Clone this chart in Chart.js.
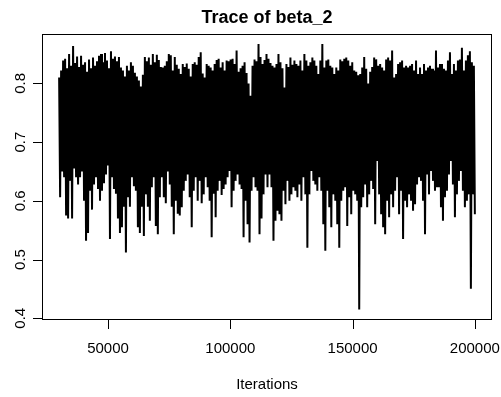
<!DOCTYPE html>
<html>
<head>
<meta charset="utf-8">
<script src="https://cdn.jsdelivr.net/npm/chart.js@4.4.1/dist/chart.umd.min.js"></script>
<style>
html,body{margin:0;padding:0;background:#fff;}
canvas{display:block;}
</style>
</head>
<body>
<canvas id="c" width="501" height="397"></canvas>
<script>
// Trace of beta_2: per-column upper and lower excursions of the MCMC trace
const titleText = "Trace of beta_2";
const xLabel = "Iterations";
const startIter = 30000;
const endIter = 200000;
const xTicks = [50000, 100000, 150000, 200000];
const yTicks = [0.4, 0.5, 0.6, 0.7, 0.8];
const xLimits = [23200, 206800];
const yLimits = [0.3978, 0.8834];

const highs = [
0.810,0.822,0.839,0.842,0.826,0.850,0.830,0.864,0.835,0.846,0.828,0.847,0.832,0.836,0.820,0.841,0.826,0.844,0.830,0.838,0.847,0.850,0.836,0.852,0.839,0.826,0.855,0.842,0.846,0.838,0.845,0.827,0.822,0.812,0.830,0.822,0.836,0.830,0.818,0.812,0.805,0.795,0.815,0.845,0.838,0.844,0.832,0.850,0.836,0.849,0.840,0.828,
0.827,0.830,0.838,0.850,0.848,0.822,0.845,0.832,0.825,0.816,0.833,0.828,0.834,0.825,0.812,0.833,0.836,0.832,0.845,0.853,0.817,0.810,0.833,0.830,0.827,0.822,0.833,0.840,0.842,0.827,0.836,0.822,0.839,0.838,0.841,0.842,0.833,0.856,0.820,0.826,0.830,0.836,0.818,0.800,0.779,0.830,0.841,0.838,0.867,0.845,0.833,0.840,0.850,
0.842,0.835,0.830,0.827,0.833,0.850,0.836,0.826,0.793,0.833,0.828,0.844,0.832,0.839,0.833,0.830,0.839,0.822,0.850,0.839,0.830,0.836,0.844,0.839,0.830,0.816,0.839,0.867,0.827,0.839,0.841,0.830,0.827,0.816,0.827,0.822,0.841,0.838,0.842,0.844,0.839,0.830,0.836,0.822,0.820,0.814,0.816,0.827,0.845,0.825,0.800,0.820,0.828,
0.844,0.841,0.830,0.833,0.827,0.822,0.841,0.844,0.839,0.856,0.810,0.816,0.833,0.836,0.839,0.827,0.830,0.827,0.830,0.833,0.822,0.839,0.816,0.827,0.816,0.833,0.822,0.827,0.830,0.825,0.822,0.856,0.827,0.833,0.833,0.825,0.822,0.839,0.853,0.816,0.833,0.822,0.839,0.841,0.861,0.822,0.839,0.848,0.855,0.836,0.830
];
const lows = [
0.606,0.650,0.640,0.575,0.570,0.634,0.570,0.655,0.640,0.628,0.640,0.650,0.600,0.532,0.545,0.617,0.585,0.628,0.640,0.620,0.600,0.617,0.630,0.645,0.660,0.535,0.640,0.620,0.612,0.570,0.545,0.555,0.590,0.512,0.606,0.590,0.640,0.625,0.617,0.555,0.545,0.590,0.540,0.611,0.590,0.566,0.623,0.640,0.557,0.543,0.606,0.640,
0.606,0.596,0.650,0.628,0.590,0.543,0.600,0.578,0.575,0.589,0.617,0.634,0.645,0.606,0.555,0.617,0.640,0.600,0.634,0.596,0.611,0.640,0.623,0.600,0.538,0.612,0.572,0.617,0.634,0.610,0.620,0.628,0.640,0.651,0.589,0.617,0.634,0.645,0.628,0.620,0.538,0.600,0.560,0.529,0.617,0.640,0.623,0.617,0.543,0.570,0.611,0.645,0.623,
0.645,0.623,0.532,0.566,0.583,0.577,0.566,0.617,0.594,0.634,0.600,0.611,0.623,0.617,0.606,0.628,0.600,0.640,0.611,0.520,0.611,0.651,0.634,0.628,0.617,0.640,0.617,0.560,0.515,0.617,0.589,0.555,0.611,0.600,0.560,0.520,0.600,0.617,0.623,0.557,0.606,0.577,0.617,0.611,0.600,0.415,0.589,0.606,0.628,0.589,0.611,0.634,0.620,
0.560,0.668,0.611,0.577,0.555,0.543,0.600,0.572,0.611,0.589,0.617,0.640,0.577,0.617,0.535,0.600,0.589,0.611,0.600,0.583,0.594,0.628,0.640,0.634,0.600,0.543,0.645,0.611,0.651,0.634,0.617,0.623,0.623,0.589,0.566,0.606,0.617,0.645,0.668,0.628,0.572,0.611,0.634,0.651,0.617,0.589,0.600,0.611,0.450,0.611,0.577
];

// interleave high/low excursions along the iteration axis
const nPts = highs.length * 2;
const step = (endIter - startIter) / (nPts - 1);
const points = [];
for (let i = 0; i < highs.length; i++) {
  points.push({x: startIter + (2 * i) * step, y: highs[i]});
  points.push({x: startIter + (2 * i + 1) * step, y: lows[i]});
}

const FONT = "'Liberation Sans', Arial, Helvetica, sans-serif";

const rAxes = {
  id: 'rAxes',
  afterDraw(chart) {
    const ctx = chart.ctx;
    const a = chart.chartArea;
    const xs = chart.scales.x, ys = chart.scales.y;
    ctx.save();
    ctx.strokeStyle = '#000';
    ctx.lineWidth = 1;
    // box
    ctx.strokeRect(a.left, a.top, a.right - a.left, a.bottom - a.top);
    // x ticks
    ctx.fillStyle = '#000';
    ctx.font = '15px ' + FONT;
    ctx.textAlign = 'center';
    ctx.textBaseline = 'alphabetic';
    xTicks.forEach(v => {
      const px = Math.round(xs.getPixelForValue(v)) + 0.5;
      ctx.beginPath();
      ctx.moveTo(px, a.bottom);
      ctx.lineTo(px, a.bottom + 9.5);
      ctx.stroke();
      ctx.fillText(String(v), xs.getPixelForValue(v), 352.5);
    });
    // y ticks
    yTicks.forEach(v => {
      const py = Math.round(ys.getPixelForValue(v)) + 0.5;
      ctx.beginPath();
      ctx.moveTo(a.left, py);
      ctx.lineTo(a.left - 9.5, py);
      ctx.stroke();
      ctx.save();
      ctx.translate(25, ys.getPixelForValue(v));
      ctx.rotate(-Math.PI / 2);
      ctx.fillText(v.toFixed(1), 0, 0);
      ctx.restore();
    });
    // axis title
    ctx.fillText(xLabel, (a.left + a.right) / 2, 388.5);
    // main title
    ctx.font = 'bold 18px ' + FONT;
    ctx.fillText(titleText, (a.left + a.right) / 2, 23);
    ctx.restore();
  }
};

new Chart(document.getElementById('c'), {
  type: 'line',
  data: {
    datasets: [{
      data: points,
      borderColor: '#000',
      borderWidth: 2,
      pointRadius: 0,
      tension: 0,
      fill: false
    }]
  },
  options: {
    responsive: false,
    animation: false,
    events: [],
    layout: {padding: {left: 42.5, right: 9.5, top: 34.5, bottom: 77.5}},
    plugins: {legend: {display: false}, title: {display: false}, tooltip: {enabled: false}},
    scales: {
      x: {type: 'linear', min: xLimits[0], max: xLimits[1], display: false},
      y: {type: 'linear', min: yLimits[0], max: yLimits[1], display: false}
    }
  },
  plugins: [rAxes]
});
</script>
</body>
</html>
